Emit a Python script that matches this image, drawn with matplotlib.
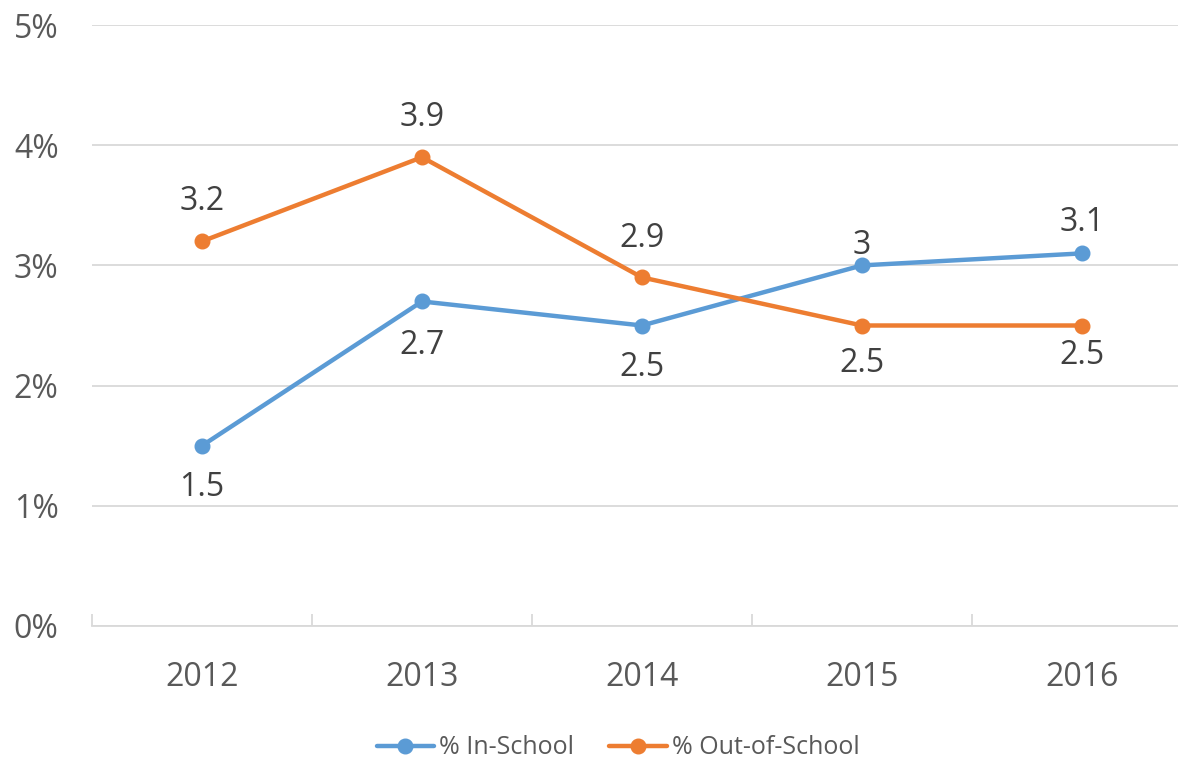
import matplotlib.pyplot as plt

years = ["2012", "2013", "2014", "2015", "2016"]
in_school = [1.5, 2.7, 2.5, 3.0, 3.1]
out_school = [3.2, 3.9, 2.9, 2.5, 2.5]
in_labels = ["1.5", "2.7", "2.5", "3", "3.1"]
out_labels = ["3.2", "3.9", "2.9", "2.5", "2.5"]
y_ticks = [0, 1, 2, 3, 4, 5]
y_tick_labels = ["0%", "1%", "2%", "3%", "4%", "5%"]

# label offsets in pixels (positive = above the point)
in_offsets = [-42, -44, -42, 20, 31]
out_offsets = [40, 40, 39, -38, -30]

BLUE = "#5B9BD5"
ORANGE = "#ED7D31"
GRID = "#D9D9D9"

plt.rcParams["font.family"] = ["Open Sans", "DejaVu Sans"]

fig = plt.figure(figsize=(11.78, 7.62), dpi=100)
ax = fig.add_axes([92 / 1178, 1 - 626 / 762, 1100 / 1178, 601 / 762])

x = list(range(len(years)))
ax.plot(x, in_school, color=BLUE, lw=3.2, marker="o", ms=10.5,
        label="% In-School", solid_capstyle="round")
ax.plot(x, out_school, color=ORANGE, lw=3.2, marker="o", ms=10.5,
        label="% Out-of-School", solid_capstyle="round")

for xi, v, lab, off in zip(x, in_school, in_labels, in_offsets):
    ax.annotate(lab, (xi, v), xytext=(0, off), textcoords="offset pixels",
                ha="center", va="center", fontsize=23, color="#404040")
for xi, v, lab, off in zip(x, out_school, out_labels, out_offsets):
    ax.annotate(lab, (xi, v), xytext=(0, off), textcoords="offset pixels",
                ha="center", va="center", fontsize=23, color="#404040")

ax.set_xlim(-0.5, len(years) - 0.5)
ax.set_ylim(0, 5)
ax.set_yticks(y_ticks)
ax.set_yticklabels(y_tick_labels)
ax.set_xticks(x)
ax.set_xticklabels(years)
ax.set_xticks([i - 0.5 for i in range(len(years) + 1)], minor=True)

ax.grid(axis="y", color=GRID, lw=1.3)
ax.set_axisbelow(True)
for s in ["top", "right", "left"]:
    ax.spines[s].set_visible(False)
ax.spines["bottom"].set_color(GRID)
ax.spines["bottom"].set_linewidth(1.3)

ax.tick_params(axis="y", length=0, pad=24, labelsize=23, labelcolor="#595959")
ax.tick_params(axis="x", which="major", length=0, pad=25, labelsize=23,
               labelcolor="#595959")
ax.tick_params(axis="x", which="minor", direction="in", length=9,
               width=1.3, color=GRID)

fig.legend(loc="center", bbox_to_anchor=(618 / 1178, 1 - 748 / 762), ncol=2,
           frameon=False, fontsize=18, handlelength=2.3, handletextpad=0.2,
           columnspacing=1.4, labelcolor="#595959")

fig.savefig("out.png", dpi=100)
